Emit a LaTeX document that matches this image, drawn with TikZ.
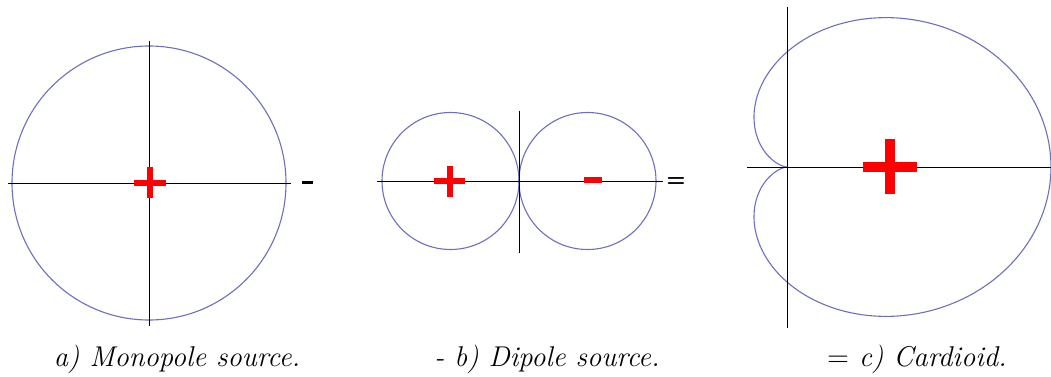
\documentclass[tikz,border=0pt]{standalone}
\usepackage{tikz}
\usetikzlibrary{calc}

\definecolor{lobeblue}{RGB}{110,110,190}
\definecolor{polered}{RGB}{255,0,0}

\begin{document}
\begin{tikzpicture}[
    x=0.5pt, y=-0.5pt,
    axis/.style = {draw=black, line width=0.5pt},
    lobe/.style = {draw=lobeblue, line width=0.55pt},
    pole/.style = {draw=polered, line width=3pt},
    bigpole/.style = {draw=polered, line width=5pt},
    sign/.style = {font=\fontsize{11}{13}\selectfont\sffamily\bfseries, inner sep=0pt},
    caption/.style = {anchor=base, inner sep=0pt,
                      font=\fontsize{14.3}{17}\selectfont\itshape}
]
\useasboundingbox (0,0) rectangle (1051,376);

% a) monopole
\coordinate (mono) at (149,183);
\draw[lobe] (mono) circle[radius=137];
\draw[axis] ($(mono)+(-141,0)$) -- ($(mono)+(142,0)$);
\draw[axis] ($(mono)+(0,-142)$) -- ($(mono)+(0,143)$);
\draw[pole] ($(mono)+(-15,0)$) -- ($(mono)+(17,0)$);
\draw[pole] ($(mono)+(1,-16)$) -- ($(mono)+(1,15)$);
\node[sign] (minus) at (307.5,182) {\rule{5.5pt}{1.5pt}};

% b) dipole
\coordinate (dip) at (519,181);
\coordinate (dipL) at (450.5,181);
\coordinate (dipR) at (587.5,181);
\draw[lobe] (dipL) circle[radius=68.5];
\draw[lobe] (dipR) circle[radius=68.5];
\draw[axis] ($(dip)+(-142,0)$) -- ($(dip)+(144,0)$);
\draw[axis] ($(dip)+(0,-70)$) -- ($(dip)+(0,72)$);
\draw[pole] (434,181) -- (465,181);
\draw[pole] (449.5,166) -- (449.5,197);
\draw[pole] (584,180) -- (602,180);
\node[sign] (equals) at (676,182) {=};

% c) cardioid
\coordinate (card) at (787,167);
\draw[lobe] plot[domain=0:360, samples=240, smooth]
    ({787+132*(1+cos(\x))*cos(\x)}, {167+115*(1+cos(\x))*sin(\x)});
\draw[axis] ($(card)+(-40,0)$) -- ($(card)+(264,0)$);
\draw[axis] ($(card)+(0,-160)$) -- ($(card)+(0,161)$);
\draw[bigpole] (863,167) -- (917,167);
\draw[bigpole] (890,139) -- (890,194);

\node[caption] (capa) at (177,366) {a) Monopole source.};
\node[caption] (capb) at (547,366) {- b) Dipole source.};
\node[caption] (capc) at (917,366) {$=$ c) Cardioid.};

\end{tikzpicture}
\end{document}
